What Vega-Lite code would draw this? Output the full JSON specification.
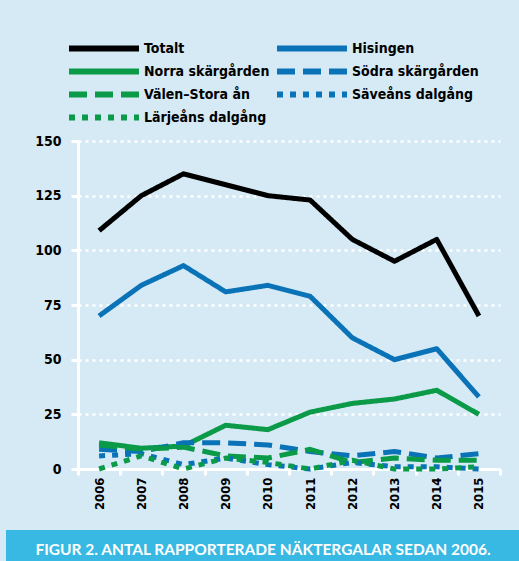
{
  "$schema": "https://vega.github.io/schema/vega-lite/v6.json",
  "background": "#d5eaf5",
  "padding": {"left": 0, "top": 37, "right": 0, "bottom": 0},
  "spacing": 20,
  "config": {"view": {"stroke": null}, "font": "DejaVu Sans Condensed, Roboto, sans-serif"},
  "resolve": {"scale": {"color": "independent", "strokeDash": "independent"}},
  "vconcat": [
    {
      "width": 494,
      "height": 328,
      "data": {"values": [
        {"year": "2006", "series": "Totalt", "value": 109},
        {"year": "2007", "series": "Totalt", "value": 125},
        {"year": "2008", "series": "Totalt", "value": 135},
        {"year": "2009", "series": "Totalt", "value": 130},
        {"year": "2010", "series": "Totalt", "value": 125},
        {"year": "2011", "series": "Totalt", "value": 123},
        {"year": "2012", "series": "Totalt", "value": 105},
        {"year": "2013", "series": "Totalt", "value": 95},
        {"year": "2014", "series": "Totalt", "value": 105},
        {"year": "2015", "series": "Totalt", "value": 70},
        {"year": "2006", "series": "Hisingen", "value": 70},
        {"year": "2007", "series": "Hisingen", "value": 84},
        {"year": "2008", "series": "Hisingen", "value": 93},
        {"year": "2009", "series": "Hisingen", "value": 81},
        {"year": "2010", "series": "Hisingen", "value": 84},
        {"year": "2011", "series": "Hisingen", "value": 79},
        {"year": "2012", "series": "Hisingen", "value": 60},
        {"year": "2013", "series": "Hisingen", "value": 50},
        {"year": "2014", "series": "Hisingen", "value": 55},
        {"year": "2015", "series": "Hisingen", "value": 33},
        {"year": "2006", "series": "Norra skärgården", "value": 12},
        {"year": "2007", "series": "Norra skärgården", "value": 9.5},
        {"year": "2008", "series": "Norra skärgården", "value": 10.5},
        {"year": "2009", "series": "Norra skärgården", "value": 20},
        {"year": "2010", "series": "Norra skärgården", "value": 18},
        {"year": "2011", "series": "Norra skärgården", "value": 26},
        {"year": "2012", "series": "Norra skärgården", "value": 30},
        {"year": "2013", "series": "Norra skärgården", "value": 32},
        {"year": "2014", "series": "Norra skärgården", "value": 36},
        {"year": "2015", "series": "Norra skärgården", "value": 25},
        {"year": "2006", "series": "Södra skärgården", "value": 9},
        {"year": "2007", "series": "Södra skärgården", "value": 8},
        {"year": "2008", "series": "Södra skärgården", "value": 12},
        {"year": "2009", "series": "Södra skärgården", "value": 12},
        {"year": "2010", "series": "Södra skärgården", "value": 11},
        {"year": "2011", "series": "Södra skärgården", "value": 8},
        {"year": "2012", "series": "Södra skärgården", "value": 6},
        {"year": "2013", "series": "Södra skärgården", "value": 8},
        {"year": "2014", "series": "Södra skärgården", "value": 5},
        {"year": "2015", "series": "Södra skärgården", "value": 7},
        {"year": "2006", "series": "Välen–Stora ån", "value": 11},
        {"year": "2007", "series": "Välen–Stora ån", "value": 9},
        {"year": "2008", "series": "Välen–Stora ån", "value": 10},
        {"year": "2009", "series": "Välen–Stora ån", "value": 6},
        {"year": "2010", "series": "Välen–Stora ån", "value": 5},
        {"year": "2011", "series": "Välen–Stora ån", "value": 9},
        {"year": "2012", "series": "Välen–Stora ån", "value": 3},
        {"year": "2013", "series": "Välen–Stora ån", "value": 5},
        {"year": "2014", "series": "Välen–Stora ån", "value": 4},
        {"year": "2015", "series": "Välen–Stora ån", "value": 4},
        {"year": "2006", "series": "Säveåns dalgång", "value": 6},
        {"year": "2007", "series": "Säveåns dalgång", "value": 7},
        {"year": "2008", "series": "Säveåns dalgång", "value": 2},
        {"year": "2009", "series": "Säveåns dalgång", "value": 5},
        {"year": "2010", "series": "Säveåns dalgång", "value": 2},
        {"year": "2011", "series": "Säveåns dalgång", "value": 0},
        {"year": "2012", "series": "Säveåns dalgång", "value": 3},
        {"year": "2013", "series": "Säveåns dalgång", "value": 1},
        {"year": "2014", "series": "Säveåns dalgång", "value": 1},
        {"year": "2015", "series": "Säveåns dalgång", "value": 0},
        {"year": "2006", "series": "Lärjeåns dalgång", "value": 0},
        {"year": "2007", "series": "Lärjeåns dalgång", "value": 6},
        {"year": "2008", "series": "Lärjeåns dalgång", "value": 0},
        {"year": "2009", "series": "Lärjeåns dalgång", "value": 5},
        {"year": "2010", "series": "Lärjeåns dalgång", "value": 3},
        {"year": "2011", "series": "Lärjeåns dalgång", "value": 0},
        {"year": "2012", "series": "Lärjeåns dalgång", "value": 4},
        {"year": "2013", "series": "Lärjeåns dalgång", "value": 0},
        {"year": "2014", "series": "Lärjeåns dalgång", "value": 0},
        {"year": "2015", "series": "Lärjeåns dalgång", "value": 1}
      ]},
      "mark": {"type": "line", "strokeWidth": 5, "strokeCap": "butt", "strokeJoin": "round"},
      "encoding": {
        "x": {
          "field": "year", "type": "ordinal",
          "scale": {"type": "band", "paddingInner": 0, "paddingOuter": 0, "range": [72, 494]},
          "axis": {
            "title": null, "grid": false, "domainColor": "white", "domainWidth": 3,
            "tickColor": "white", "tickWidth": 3, "tickSize": 6, "tickBand": "extent",
            "labelAngle": -90, "labelFont": "DejaVu Sans Condensed, Roboto, sans-serif", "labelFontWeight": "bold",
            "labelFontSize": 13, "labelColor": "black", "labelPadding": 2
          }
        },
        "y": {
          "field": "value", "type": "quantitative",
          "scale": {"domain": [0, 150], "nice": false},
          "axis": {
            "title": null, "values": [0, 25, 50, 75, 100, 125, 150], "offset": -72,
            "domainColor": "white", "domainWidth": 3, "tickColor": "white", "tickWidth": 3, "tickSize": 7,
            "grid": true, "gridColor": "white", "gridDash": [3, 4], "gridWidth": 2.5, "gridOpacity": 1,
            "labelFont": "DejaVu Sans Condensed, Roboto, sans-serif", "labelFontWeight": "bold", "labelFontSize": 14,
            "labelColor": "black", "labelPadding": 10, "minExtent": 0
          }
        },
        "color": {
          "field": "series", "type": "nominal",
          "scale": {
            "domain": ["Totalt", "Hisingen", "Norra skärgården", "Södra skärgården", "Välen–Stora ån", "Säveåns dalgång", "Lärjeåns dalgång"],
            "range": ["#000000", "#0a73b7", "#0a9a48", "#0a73b7", "#0a9a48", "#0a73b7", "#0a9a48"]
          },
          "legend": {
            "title": null, "orient": "none", "direction": "horizontal", "legendX": 60, "legendY": -104, "columns": 2,
            "symbolType": "stroke", "symbolSize": 4900, "symbolStrokeWidth": 6, "clipHeight": 23,
            "labelFont": "DejaVu Sans Condensed, Roboto, sans-serif", "labelFontWeight": "bold", "labelFontSize": 14,
            "labelColor": "black", "labelOffset": 2, "columnPadding": 4, "rowPadding": 0, "padding": 0
          }
        },
        "strokeDash": {
          "field": "series", "type": "nominal",
          "scale": {
            "domain": ["Totalt", "Hisingen", "Norra skärgården", "Södra skärgården", "Välen–Stora ån", "Säveåns dalgång", "Lärjeåns dalgång"],
            "range": [[1, 0], [1, 0], [1, 0], [18, 8], [18, 8], [6, 7], [6, 7]]
          },
          "legend": {
            "title": null, "orient": "none", "direction": "horizontal", "legendX": 60, "legendY": -104, "columns": 2,
            "symbolType": "stroke", "symbolSize": 4900, "symbolStrokeWidth": 6, "clipHeight": 23,
            "labelFont": "DejaVu Sans Condensed, Roboto, sans-serif", "labelFontWeight": "bold", "labelFontSize": 14,
            "labelColor": "black", "labelOffset": 2, "columnPadding": 4, "rowPadding": 0, "padding": 0
          }
        }
      }
    },
    {
      "width": 514,
      "height": 36,
      "view": {"fill": "#38b9e3", "stroke": null},
      "data": {"values": [{"caption": "FIGUR 2. ANTAL RAPPORTERADE NÄKTERGALAR SEDAN 2006."}]},
      "mark": {"type": "text", "font": "Lato", "fontWeight": "bold", "fontSize": 15.5, "color": "white", "dy": 2},
      "encoding": {"text": {"field": "caption", "type": "nominal"}}
    }
  ]
}
